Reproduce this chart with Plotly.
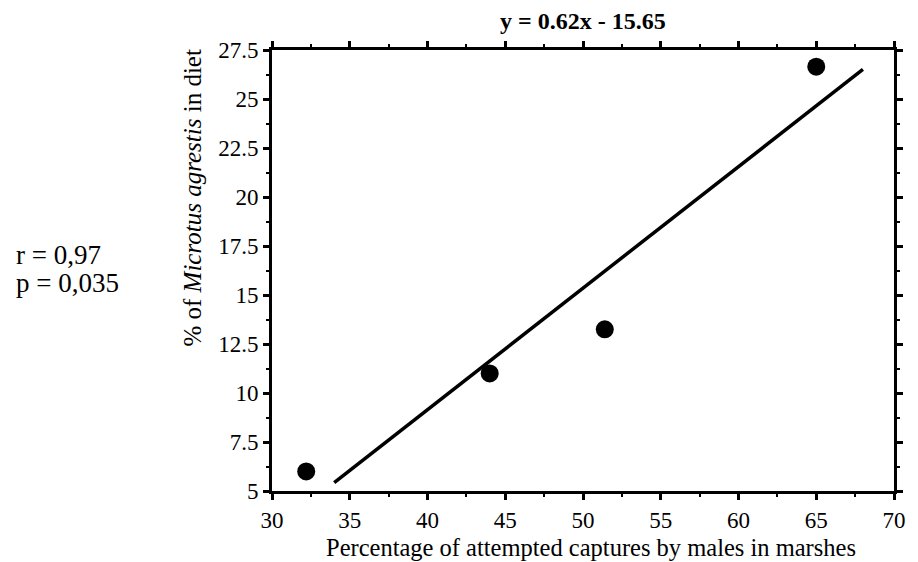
import plotly.graph_objects as go

# Data
pct_captures = [32.2, 44.0, 51.4, 65.0]
pct_microtus = [6.0, 11.0, 13.25, 26.65]

fit_x = [34, 68]
fit_y = [5.43, 26.51]

x_ticks = [30, 35, 40, 45, 50, 55, 60, 65, 70]
y_ticks = [5, 7.5, 10, 12.5, 15, 17.5, 20, 22.5, 25, 27.5]

title_text = "<b>y = 0.62x - 15.65</b>"
stats_r = "r = 0,97"
stats_p = "p = 0,035"

FONT = "Liberation Serif"

fig = go.Figure()
fig.add_trace(go.Scatter(x=fit_x, y=fit_y, mode="lines",
                         line=dict(color="black", width=3.5), showlegend=False))
fig.add_trace(go.Scatter(x=pct_captures, y=pct_microtus, mode="markers",
                         marker=dict(color="black", size=18), showlegend=False))

axis_common = dict(
    showgrid=False, zeroline=False, showline=True, linecolor="black", linewidth=3,
    mirror="ticks", ticks="outside", ticklen=6, tickwidth=2.5, tickcolor="black",
    tickfont=dict(family=FONT, size=23, color="black"),
    minor=dict(ticks="outside", ticklen=3, tickwidth=2, tickcolor="black", showgrid=False),
)

fig.update_xaxes(range=[30, 70], tickvals=x_ticks, ticktext=[str(v) for v in x_ticks],
                 **axis_common)
fig.update_yaxes(range=[5, 27.5], tickvals=y_ticks, ticktext=[f"{v:g}" for v in y_ticks],
                 **axis_common)
fig.update_xaxes(minor=dict(tickvals=[v + 2.5 for v in x_ticks[:-1]]))
fig.update_yaxes(minor=dict(tickvals=[v + 1.25 for v in y_ticks[:-1]]))

# The page body adds an 8px margin, so the figure is sized 8px smaller
fig.update_layout(
    width=910, height=554,
    margin=dict(l=264, r=14, t=42, b=71),
    paper_bgcolor="white", plot_bgcolor="white",
    font=dict(family=FONT, color="black"),
    annotations=[
        dict(text=title_text, xref="paper", yref="paper", x=0.5, y=1.066,
             xanchor="center", yanchor="middle", showarrow=False,
             font=dict(family=FONT, size=24, color="black")),
        dict(text="Percentage of attempted captures by males in marshes",
             xref="paper", yref="paper", x=0.513, y=-0.127,
             xanchor="center", yanchor="middle", showarrow=False,
             font=dict(family=FONT, size=24.5, color="black")),
        dict(text="% of <i>Microtus agrestis</i> in diet",
             xref="paper", yref="paper", x=-0.128, y=0.664, textangle=-90,
             xanchor="center", yanchor="middle", showarrow=False,
             font=dict(family=FONT, size=25, color="black")),
        dict(text=stats_r, xref="paper", yref="paper", x=-0.414, y=0.535,
             xanchor="left", yanchor="middle", showarrow=False,
             font=dict(family=FONT, size=27, color="black")),
        dict(text=stats_p, xref="paper", yref="paper", x=-0.414, y=0.472,
             xanchor="left", yanchor="middle", showarrow=False,
             font=dict(family=FONT, size=27, color="black")),
    ],
)

fig.write_html("out.html")
